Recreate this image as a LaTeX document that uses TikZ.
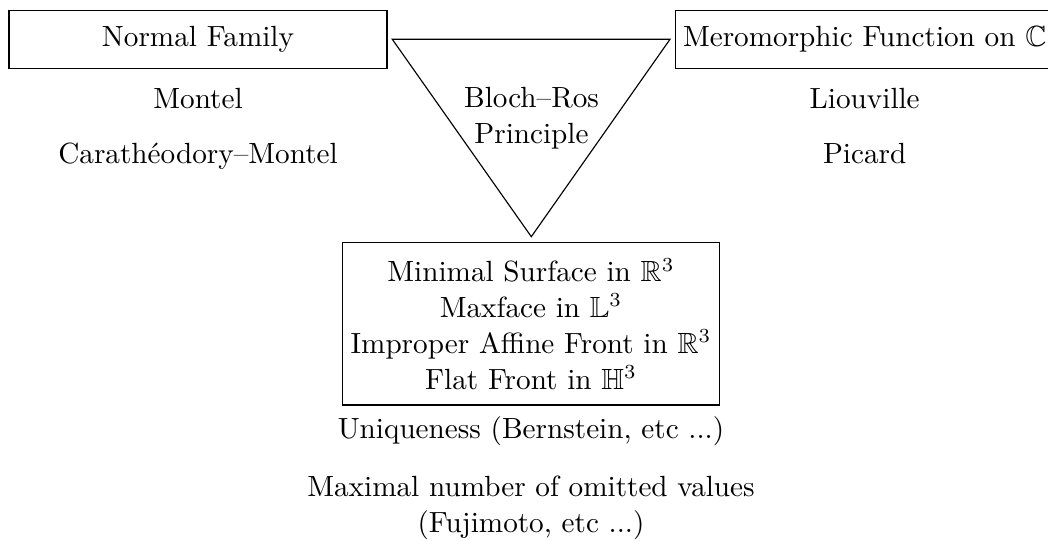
\documentclass[tikz,border=0pt]{standalone}
\usepackage{amssymb}
\begin{document}
\begin{tikzpicture}[x=0.35088pt,y=-0.35088pt,
  every node/.style={font=\fontsize{10.25}{12.6}\selectfont},
  boxnode/.style={draw, minimum width=132.6pt, minimum height=20.35pt, inner sep=0pt},
  lbl/.style={anchor=base, inner sep=0pt},
  multi/.style={align=center, inner sep=0pt}]
\useasboundingbox (0,0) rectangle (1048,541);
\node[boxnode] (nf) at (198,39.7) {Normal Family};
\node[boxnode] (mf) at (864.7,39.7) {Meromorphic Function on $\mathbb{C}$};
\node[lbl] (montel) at (198,108.3) {Montel};
\node[lbl] (cm) at (198,163.3) {Carath\'eodory--Montel};
\node[lbl] (liou) at (864.7,108.3) {Liouville};
\node[lbl] (pic) at (864.7,164) {Picard};
\coordinate (tl) at (392.3,39.3);
\coordinate (tr) at (670,39.3);
\coordinate (tb) at (531.3,236.7);
\draw (tl) -- (tr) -- (tb) -- cycle;
\node[multi] (br) at (531.5,118.3) {Bloch--Ros\\Principle};
\node[draw, align=center, minimum width=132.1pt, minimum height=56.95pt, inner sep=0pt] (surf) at (531,323.8)
  {Minimal Surface in $\mathbb{R}^3$\\Maxface in $\mathbb{L}^3$\\Improper Affine Front in $\mathbb{R}^3$\\Flat Front in $\mathbb{H}^3$};
\node[lbl] (uniq) at (531,439) {Uniqueness (Bernstein, etc ...)};
\node[multi] (omit) at (531,508.3) {Maximal number of omitted values\\(Fujimoto, etc ...)};
\end{tikzpicture}
\end{document}
